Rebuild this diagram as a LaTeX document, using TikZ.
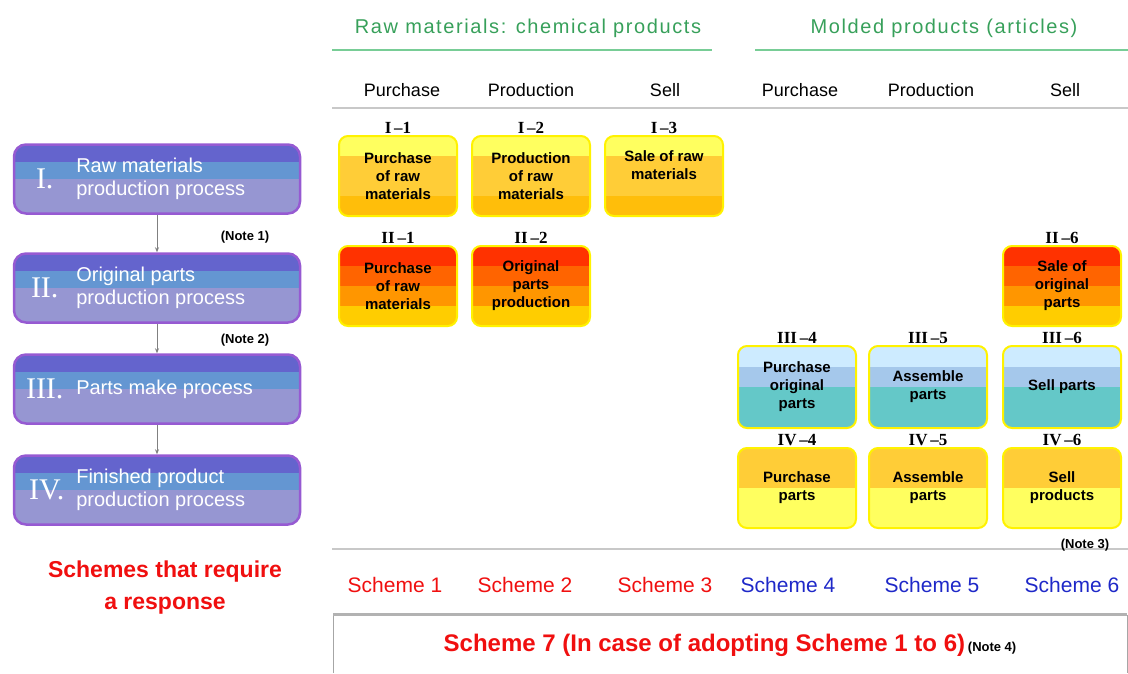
\documentclass[tikz,border=0pt]{standalone}
\usepackage{fontspec}
\setmainfont{Liberation Sans}
\newfontfamily\romfont{Liberation Serif}
\newfontfamily\headfont[LetterSpace=8]{Liberation Sans}
\usetikzlibrary{calc,arrows.meta}

\definecolor{hdgreen}{RGB}{55,160,90}
\definecolor{hdline}{RGB}{120,205,150}
\definecolor{rule}{RGB}{200,200,200}
\definecolor{ylw}{RGB}{255,255,95}
\definecolor{org}{RGB}{255,205,55}
\definecolor{dorg}{RGB}{255,190,10}
\definecolor{redA}{RGB}{255,50,0}
\definecolor{redB}{RGB}{255,100,0}
\definecolor{redC}{RGB}{255,150,0}
\definecolor{redD}{RGB}{255,205,0}
\definecolor{bluA}{RGB}{205,235,255}
\definecolor{bluB}{RGB}{165,200,235}
\definecolor{bluC}{RGB}{100,200,200}
\definecolor{lbxA}{RGB}{100,100,205}
\definecolor{lbxB}{RGB}{100,150,210}
\definecolor{lbxC}{RGB}{150,150,210}
\definecolor{lbrim}{RGB}{150,90,210}
\definecolor{schred}{RGB}{240,15,15}
\definecolor{schblue}{RGB}{30,40,200}

\tikzset{
  bands/.style n args={4}{path picture={
      \coordinate (pa) at (path picture bounding box.north west);
      \coordinate (pb) at (path picture bounding box.south east);
      \coordinate (q1) at ($(pa)!0.25!(pb)$);
      \coordinate (q2) at ($(pa)!0.5!(pb)$);
      \coordinate (q3) at ($(pa)!0.75!(pb)$);
      \fill[#1, sharp corners] (pa) rectangle (pb |- q1);
      \fill[#2, sharp corners] (pa |- q1) rectangle (pb |- q2);
      \fill[#3, sharp corners] (pa |- q2) rectangle (pb |- q3);
      \fill[#4, sharp corners] (pa |- q3) rectangle (pb);
  }},
  pbox/.style={draw=yellow, line width=2pt, rounded corners=9pt, minimum width=118pt,
    minimum height=80pt, align=center, font=\bfseries\fontsize{15}{18}\selectfont},
  tag/.style={font=\romfont\bfseries\fontsize{17}{17}\selectfont, inner sep=1pt, label distance=0pt},
  sbox/.style={draw=lbrim, line width=2.5pt, rounded corners=12pt, minimum width=286pt,
    minimum height=69pt, bands={lbxA}{lbxB}{lbxC}{lbxC}},
  stext/.style={text=white, anchor=west, align=left, font=\fontsize{20}{23}\selectfont},
  snum/.style={text=white, font=\romfont\fontsize{30}{30}\selectfont},
  flow/.style={draw=gray, line width=0.8pt, -{Stealth[length=5pt,width=4pt]}},
  note/.style={font=\bfseries\fontsize{13}{13}\selectfont},
  colhead/.style={font=\fontsize{18}{18}\selectfont},
  scheme/.style={font=\fontsize{21}{21}\selectfont},
}

\begin{document}
\begin{tikzpicture}[x=1pt, y=-1pt]
  \useasboundingbox (0,0) rectangle (1128,673);

  % headings
  \node[text=hdgreen, font=\headfont\fontsize{20}{20}\selectfont] (hraw) at (528,28) {Raw materials: chemical products};
  \node[text=hdgreen, font=\headfont\fontsize{20}{20}\selectfont] (hmold) at (944,28) {Molded products (articles)};
  \draw[hdline, line width=2.5pt] (332,50) -- (712,50);
  \draw[hdline, line width=2.5pt] (755,50) -- (1128,50);
  \node[colhead] (c1) at (402,90) {Purchase};
  \node[colhead] (c2) at (531,90) {Production};
  \node[colhead] (c3) at (665,90) {Sell};
  \node[colhead] (c4) at (800,90) {Purchase};
  \node[colhead] (c5) at (931,90) {Production};
  \node[colhead] (c6) at (1065,90) {Sell};
  \draw[rule, line width=2pt] (332,108) -- (1128,108);

  % process boxes
  \node[sbox] (s1) at (157,179) {};
  \node[sbox] (s2) at (157,288) {};
  \node[sbox] (s3) at (157,389) {};
  \node[sbox] (s4) at (157,490) {};
  \node[snum] at ([xshift=32pt]s1.west) {I.};
  \node[snum] at ([xshift=32pt]s2.west) {II.};
  \node[snum] at ([xshift=32pt]s3.west) {III.};
  \node[snum] at ([xshift=34pt]s4.west) {IV.};
  \node[stext] at ([xshift=60pt]s1.west) {Raw materials\\production process};
  \node[stext] at ([xshift=60pt]s2.west) {Original parts\\production process};
  \node[stext] at ([xshift=60pt]s3.west) {Parts make process};
  \node[stext] at ([xshift=60pt]s4.west) {Finished product\\production process};
  \draw[flow] (s1) -- (s2);
  \draw[flow] (s2) -- (s3);
  \draw[flow] (s3) -- (s4);
  \node[note] (n1) at (245,237) {(Note 1)};
  \node[note] (n2) at (245,340) {(Note 2)};

  %row I
  \node[pbox, bands={ylw}{org}{org}{dorg}, label={[tag]90:I\,–1}] (b11) at (398,176) {Purchase\\of raw\\materials};
  \node[pbox, bands={ylw}{org}{org}{dorg}, label={[tag]90:I\,–2}] (b12) at (531,176) {Production\\of raw\\materials};
  \node[pbox, bands={ylw}{org}{org}{dorg}, label={[tag]90:I\,–3}] (b13) at (664,176) {Sale of raw\\materials\\[4pt]};
  %row II
  \node[pbox, bands={redA}{redB}{redC}{redD}, label={[tag]90:II\,–1}] (b21) at (398,286) {Purchase\\of raw\\materials};
  \node[pbox, bands={redA}{redB}{redC}{redD}, label={[tag]90:II\,–2}] (b22) at (531,286) {Original\\parts\\production};
  \node[pbox, bands={redA}{redB}{redC}{redD}, label={[tag]90:II\,–6}] (b26) at (1062,286) {Sale of\\original\\parts};
  %row III
  \node[pbox, minimum height=82pt, bands={bluA}{bluB}{bluC}{bluC}, label={[tag]90:III\,–4}] (b34) at (797,387) {Purchase\\original\\parts};
  \node[pbox, minimum height=82pt, bands={bluA}{bluB}{bluC}{bluC}, label={[tag]90:III\,–5}] (b35) at (928,387) {Assemble\\parts};
  \node[pbox, minimum height=82pt, bands={bluA}{bluB}{bluC}{bluC}, label={[tag]90:III\,–6}] (b36) at (1062,387) {Sell parts};
  %row IV
  \node[pbox, bands={org}{org}{ylw}{ylw}, label={[tag]90:IV\,–4}] (b44) at (797,488) {Purchase\\parts};
  \node[pbox, bands={org}{org}{ylw}{ylw}, label={[tag]90:IV\,–5}] (b45) at (928,488) {Assemble\\parts};
  \node[pbox, bands={org}{org}{ylw}{ylw}, label={[tag]90:IV\,–6}] (b46) at (1062,488) {Sell\\products};

  % schemes
  \draw[rule, line width=2pt] (332,549) -- (1128,549);
  \node[note] (n3) at (1085,545) {(Note 3)};
  \node[scheme, text=schred] (k1) at (395,585) {Scheme 1};
  \node[scheme, text=schred] (k2) at (525,585) {Scheme 2};
  \node[scheme, text=schred] (k3) at (665,585) {Scheme 3};
  \node[scheme, text=schblue] (k4) at (788,585) {Scheme 4};
  \node[scheme, text=schblue] (k5) at (932,585) {Scheme 5};
  \node[scheme, text=schblue] (k6) at (1072,585) {Scheme 6};
  \node[text=schred, align=center, font=\bfseries\fontsize{23}{32}\selectfont] (req) at (165,588) {Schemes that require\\a response};

  \draw[gray!70, line width=1pt] (333,673) -- (333,615) -- (1127,615) -- (1127,673);
  \draw[gray!60, line width=3pt] (333,614) -- (1127,614);
  \node (k7) at (730,645) {{\color{schred}\bfseries\fontsize{24}{24}\selectfont Scheme 7 (In case of adopting Scheme 1 to 6)} {\bfseries\fontsize{13}{13}\selectfont (Note 4)}};
\end{tikzpicture}
\end{document}
